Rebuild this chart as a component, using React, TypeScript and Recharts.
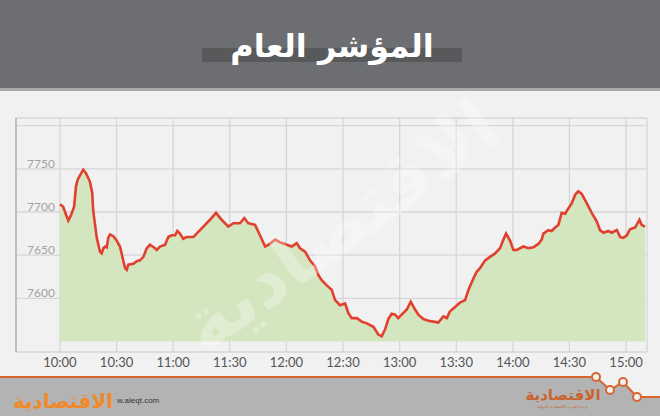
import React from "react";
import { ComposedChart, Area, XAxis, YAxis, CartesianGrid } from "recharts";

const title = "المؤشر العام";
const brand = "الاقتصادية";
const site = "w.aleqt.com";

// minutes after 10:00
const minutes = [
  0, 1.7, 2.7, 4.4, 5.8, 7.5, 8.5, 9.5, 12.3, 13.8, 15.9, 17.1, 17.6, 18.6, 19.5, 21.2, 22.1, 23, 23.9, 24.8,
  25.6, 26.5, 28.3, 30, 31.8, 32.7, 33.4, 34.5, 35.4, 36.2, 38.9, 40.7, 42.4, 44.2, 46, 47.7, 50.4, 51.3, 53, 55.7,
  57.4, 59.2, 61, 62.2, 63.6, 65.3, 67.1, 70.7, 73.3, 76, 79.5, 82.7, 85.7, 89.2, 91.9, 95.4, 97.7, 99.8, 103.4, 106,
  108.7, 110.4, 114, 116.6, 120.2, 122.8, 125.5, 127.2, 129.9, 132.5, 135.2, 136.9, 138.7, 141.4, 144, 145.8, 148.4, 151.1, 152.8, 154.6,
  157.3, 159.9, 162.6, 166.1, 168.7, 170.5, 172.3, 174, 175.8, 177.6, 179.3, 181.1, 183.8, 185.9, 188.2, 189.9, 192.6, 195.2, 197.9, 200.5,
  203.2, 205, 206.7, 209.4, 212, 214.7, 215.9, 216.9, 219.1, 220.9, 222.6, 225.3, 227.9, 230.6, 233.2, 235, 236.4, 238.5, 240.3, 242.1,
  243.8, 245.6, 248.2, 250.9, 253.5, 255.3, 256.2, 258.8, 260.6, 262.4, 264.1, 265.9, 267.7, 269.4, 271.2, 273, 274.7, 276.5, 279.2, 281.8,
  284.5, 286.2, 288, 290.6, 292.4, 295.1, 296.9, 298.6, 300.4, 302.1, 304.8, 307.1, 308.3, 310.1,
];
const indexValues = [
  7709, 7706, 7700, 7690, 7696, 7706, 7730, 7738, 7749, 7745, 7735, 7722, 7702, 7685, 7670, 7654, 7652, 7658, 7660, 7659,
  7670, 7674, 7672, 7667, 7660, 7652, 7645, 7635, 7633, 7639, 7640, 7643, 7644, 7648, 7658, 7662, 7658, 7656, 7660, 7662,
  7671, 7673, 7673, 7678, 7675, 7669, 7671, 7671, 7677, 7683, 7691, 7699, 7691, 7683, 7687, 7687, 7693, 7687, 7685, 7673,
  7660, 7662, 7668, 7665, 7662, 7660, 7664, 7658, 7654, 7644, 7637, 7627, 7621, 7615, 7610, 7598, 7592, 7594, 7583, 7577,
  7577, 7573, 7571, 7567, 7558, 7556, 7564, 7576, 7582, 7581, 7577, 7581, 7587, 7596, 7587, 7581, 7576, 7574, 7573, 7572,
  7579, 7577, 7585, 7590, 7595, 7598, 7606, 7612, 7623, 7631, 7635, 7644, 7648, 7652, 7658, 7668, 7675, 7667, 7656, 7656,
  7658, 7660, 7658, 7659, 7663, 7668, 7675, 7679, 7678, 7682, 7685, 7699, 7698, 7704, 7710, 7720, 7724, 7721, 7710, 7699,
  7689, 7679, 7676, 7678, 7676, 7679, 7671, 7670, 7673, 7680, 7682, 7691, 7685, 7683,
];

const xTicks = [0, 30, 60, 90, 120, 150, 180, 210, 240, 270, 300];
const xTickLabels = ["10:00", "10:30", "11:00", "11:30", "12:00", "12:30", "13:00", "13:30", "14:00", "14:30", "15:00"];
const yTicks = [7600, 7650, 7700, 7750, 7800];
const yTickLabels = ["7600", "7650", "7700", "7750", ""];

const data = minutes.map((m, i) => ({ m, v: indexValues[i] }));

const YTick = (props: any) => {
  const idx = yTicks.indexOf(Number(props.payload.value));
  const label = idx >= 0 ? yTickLabels[idx] : "";
  return (
    <text x={27} y={props.y - 1} textAnchor="start" fontSize={12} fill="#a3a3a3" fontFamily="Lato, sans-serif">
      {label}
    </text>
  );
};

const XTick = (props: any) => {
  const idx = xTicks.indexOf(Number(props.payload.value));
  return (
    <text x={props.x} y={367} textAnchor="middle" fontSize={13} fill="#555" fontFamily="Lato, sans-serif">
      {xTickLabels[idx]}
    </text>
  );
};

export default function App() {
  return (
    <div style={{ position: "absolute", left: 0, top: 0, width: 660, height: 416, background: "#f1f1f1", overflow: "hidden" }}>
      {/* header */}
      <div style={{ position: "absolute", left: 0, top: 0, width: 660, height: 88, background: "#6d6e71" }} />
      <div style={{ position: "absolute", left: 0, top: 88, width: 660, height: 3, background: "#a9a9ab" }} />
      <div style={{ position: "absolute", left: 202, top: 48, width: 260, height: 14, background: "#58595b" }} />
      <div
        style={{
          position: "absolute",
          left: 130,
          top: 22,
          width: 404,
          textAlign: "center",
          color: "#fff",
          fontFamily: "'DejaVu Sans', sans-serif",
          fontWeight: "bold",
          fontSize: 32,
          lineHeight: "48px",
          direction: "rtl",
        }}
      >
        {title}
      </div>

      <div style={{ position: "absolute", left: 0, top: 0 }}>
        <ComposedChart width={660} height={416} data={data} margin={{ top: 118, right: 13, bottom: 0, left: 0 }}>
          <CartesianGrid stroke="#d6d6d6" strokeWidth={1.3} />
          <XAxis
            dataKey="m"
            type="number"
            domain={[-23.3, 311.1]}
            allowDataOverflow
            ticks={xTicks}
            height={64}
            axisLine={false}
            tickLine={false}
            tick={<XTick />}
            interval={0}
          />
          <YAxis
            type="number"
            domain={[7537.8, 7808.9]}
            allowDataOverflow
            ticks={yTicks}
            width={16}
            axisLine={{ stroke: "#b5b5b5", strokeWidth: 1.5 }}
            tickLine={false}
            tick={<YTick />}
            interval={0}
          />
          <Area
            type="linear"
            dataKey="v"
            baseValue={7550}
            stroke="#e2402f"
            strokeWidth={2.6}
            fill="#d3e6bf"
            fillOpacity={1}
            isAnimationActive={false}
            dot={false}
            activeDot={false}
          />
        </ComposedChart>
      </div>

      {/* watermark */}
      <div
        style={{
          position: "absolute",
          left: 130,
          top: 180,
          width: 420,
          textAlign: "center",
          transform: "rotate(-36deg)",
          color: "#ffffff",
          opacity: 0.3,
          fontFamily: "'DejaVu Sans', sans-serif",
          fontWeight: "bold",
          fontSize: 74,
          lineHeight: "90px",
          direction: "rtl",
          pointerEvents: "none",
        }}
      >
        {brand}
      </div>

      {/* footer */}
      <svg style={{ position: "absolute", left: 0, top: 0 }} width={660} height={416}>
        <polygon points="0,377 596,377 610,390 623,382 637,397 660,397 660,416 0,416" fill="#b3b3b3" />
        <polyline points="0,377 596,377 610,390 623,382 637,397 660,397" fill="none" stroke="#d7652f" strokeWidth={2} />
        {[
          [596, 377],
          [610, 390],
          [623, 382],
          [637, 397],
        ].map(([cx, cy], i) => (
          <circle key={i} cx={cx} cy={cy} r={4} fill="#f1f1f1" stroke="#d7652f" strokeWidth={2} />
        ))}
        <text x={63} y={408} textAnchor="middle" fontSize={20} fontWeight="bold" fill="#f0892a" fontFamily="'DejaVu Sans', sans-serif" direction="rtl">
          {brand}
        </text>
        <text x={117} y={403} fontSize={8} fill="#333" fontFamily="'Liberation Sans', sans-serif">
          {site}
        </text>
        <text x={563} y={400} textAnchor="middle" fontSize={15} fontWeight="bold" fill="#c9642e" fontFamily="'DejaVu Sans', sans-serif" direction="rtl">
          {brand}
        </text>
        <text x={563} y={408} textAnchor="middle" fontSize={4} fill="#c9642e" fontFamily="'DejaVu Sans', sans-serif" direction="rtl">
          جريدة العرب الاقتصادية الدولية
        </text>
      </svg>
    </div>
  );
}
